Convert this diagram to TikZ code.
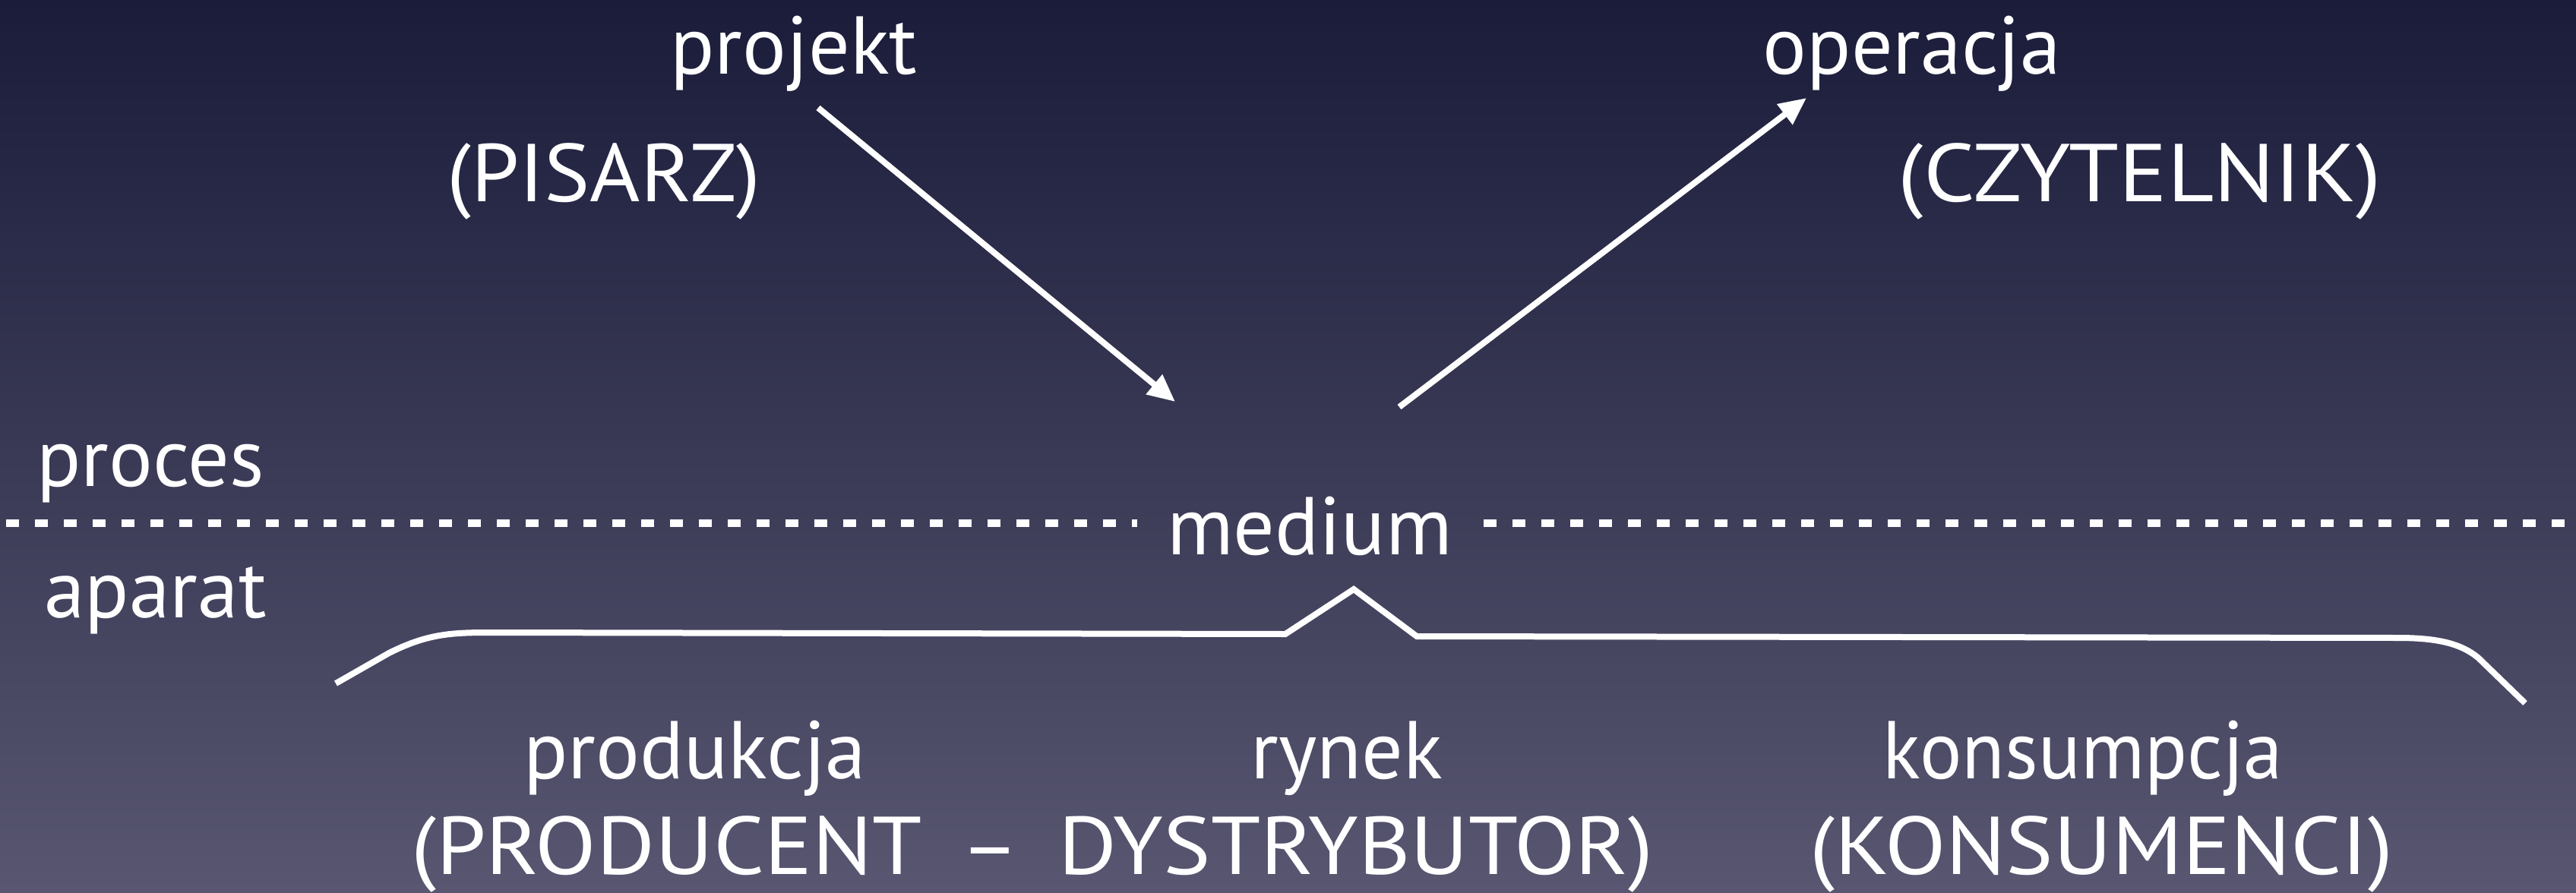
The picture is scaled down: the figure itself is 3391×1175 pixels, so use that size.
\documentclass[tikz,border=0pt]{standalone}
\usepackage{fontspec}
\setmainfont{PT Sans}
\usetikzlibrary{arrows.meta}
\definecolor{bgtop}{RGB}{26,28,58}
\definecolor{bgbot}{RGB}{88,86,112}
\definecolor{ink}{RGB}{255,255,255}
\newcommand\wide[2]{\scalebox{#1}[1]{#2}}
\tikzset{
  lbl/.style={text=ink, font=\fontsize{108}{120}\selectfont, inner sep=0pt, anchor=base},
  arr/.style={draw=ink, line width=8pt, -{Triangle[length=36pt,width=32pt]}},
  brace/.style={draw=ink, line width=8pt, line join=miter},
  sep/.style={draw=ink, line width=9.5pt, dash pattern=on 17pt off 21pt}
}
\begin{document}
\begin{tikzpicture}[x=1pt,y=-1pt]
\shade[top color=bgtop, bottom color=bgbot] (0,0) rectangle (3391,1175);
\useasboundingbox (0,0) rectangle (3391,1175);
% labels
\node[lbl] (projekt) at (1045,97) {projekt};
\node[lbl] (operacja) at (2517,97) {operacja};
\node[lbl] (pisarz) at (795,265) {\wide{1.05}{(PISARZ)}};
\node[lbl] (czytelnik) at (2817,265) {\wide{1.1}{(CZYTELNIK)}};
\node[lbl, anchor=base west] (proces) at (48,640) {proces};
\node[lbl, anchor=base west] (aparat) at (58,813) {aparat};
\node[lbl] (medium) at (1724,730) {medium};
\node[lbl] (produkcja) at (915,1025) {produkcja};
\node[lbl] (rynek) at (1773,1025) {rynek};
\node[lbl] (konsumpcja) at (2742,1025) {\wide{0.96}{konsumpcja}};
\node[lbl] (prodist) at (1359,1151) {\wide{1.09}{(PRODUCENT \,–\, DYSTRYBUTOR)}};
\node[lbl] (konsumenci) at (2766,1151) {\wide{1.09}{(KONSUMENCI)}};
% arrows
\coordinate (a1s) at (1077,142);
\coordinate (a1e) at (1547,529);
\coordinate (a2s) at (1842,536);
\coordinate (a2e) at (2378,129);
\draw[arr] (a1s) -- (a1e);
\draw[arr] (a2s) -- (a2e);
% dashed separator
\coordinate (dl0) at (8,689);
\coordinate (dl1) at (1497,689);
\coordinate (dr0) at (1953,689);
\coordinate (dr1) at (3391,689);
\draw[sep] (dl0) -- (dl1);
\draw[sep] (dr0) -- (dr1);
% brace
\draw[brace] (442,900) -- (512,860) .. controls (560,836) and (590,833) .. (642,833)
  -- (1692,835) -- (1782,776) -- (1865,838) -- (3157,840)
  .. controls (3210,840) and (3240,848) .. (3262,866) -- (3324,926);
\end{tikzpicture}
\end{document}
